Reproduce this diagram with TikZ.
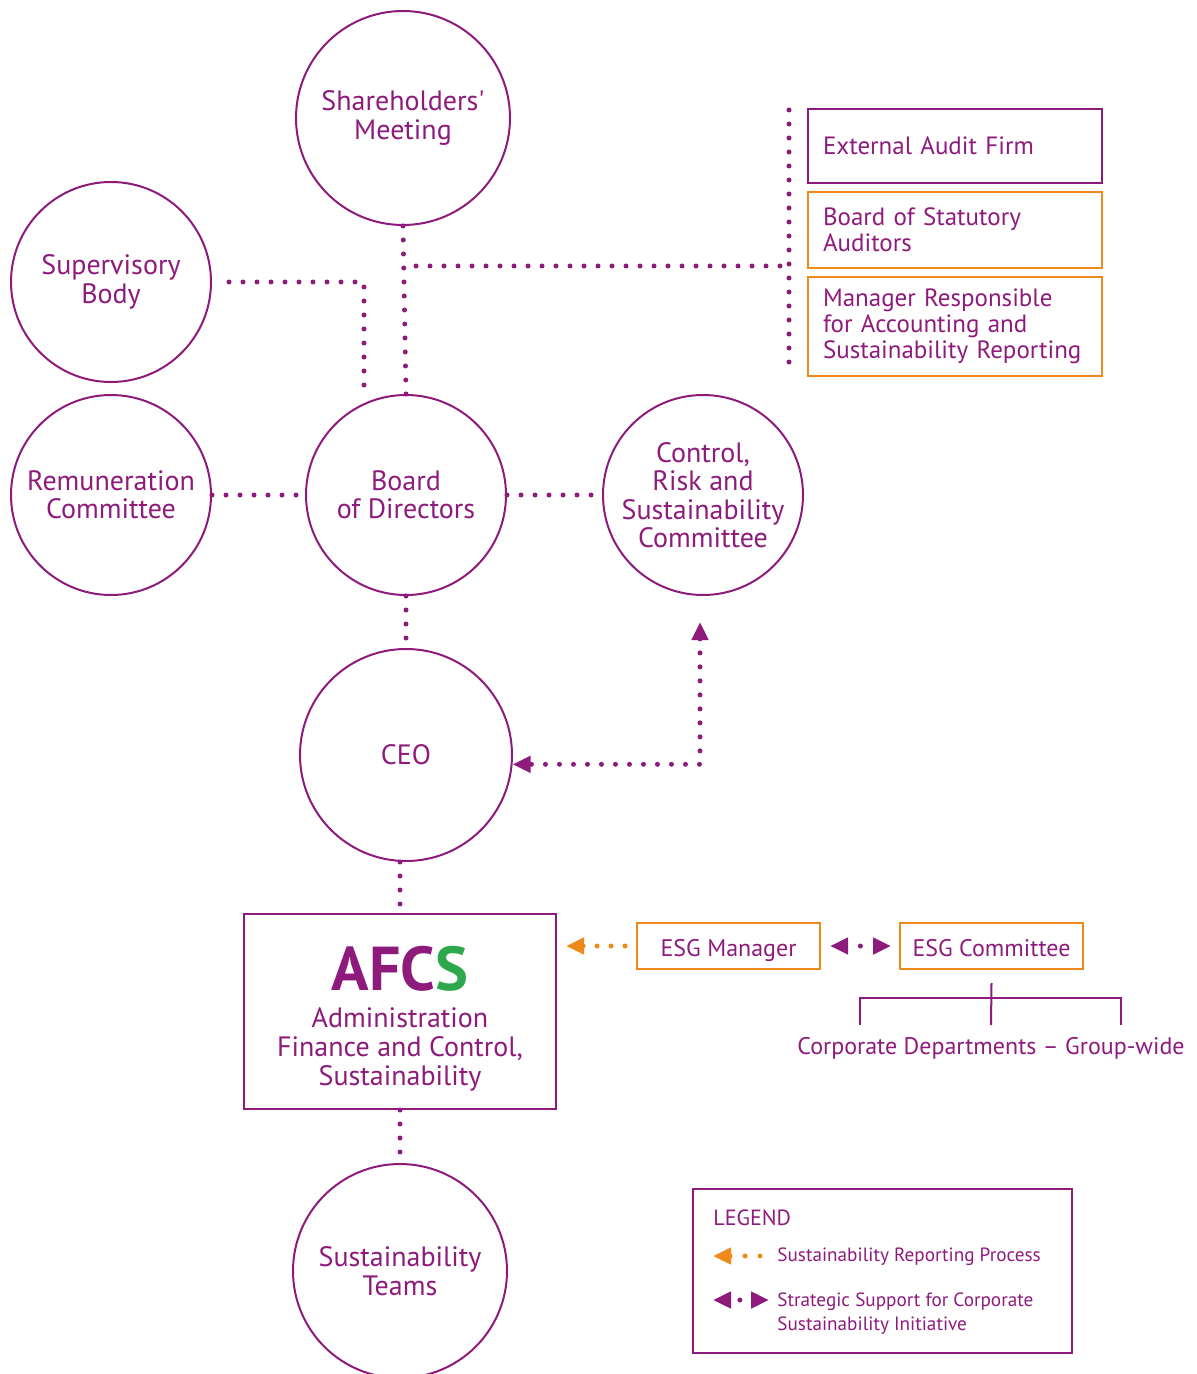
\documentclass[tikz,border=0pt]{standalone}
\usepackage{fontspec}
\setmainfont{PT Sans}
\usetikzlibrary{calc,arrows.meta}
\definecolor{plum}{HTML}{8E1B7C}
\definecolor{amber}{HTML}{EF8A1A}
\definecolor{leaf}{HTML}{2DA84C}

\begin{document}
\begin{tikzpicture}[x=0.5pt,y=-0.5pt,
    >={Triangle[length=9pt,width=8pt]},
    organ/.style={circle,draw=plum,line width=1pt,minimum size=#1,inner sep=0pt,
      text=plum,align=center,font=\fontsize{14}{14.2}\selectfont},
    organ/.default=100pt,
    pbox/.style={draw=plum,line width=1pt,text=plum,align=left,text width=132pt,
      inner xsep=7.5pt,minimum width=147pt,font=\fontsize{12.5}{13}\selectfont},
    obox/.style={pbox,draw=amber},
    esgbox/.style={draw=amber,line width=1pt,text=plum,minimum width=91.5pt,
      minimum height=23pt,text height=10.5pt,text depth=0.5pt,font=\fontsize{12}{12}\selectfont},
    pdots/.style={plum,line width=2.5pt,line cap=round,dash pattern=on 0pt off 7pt},
    odots/.style={pdots,amber},
    onedot/.style={plum,line width=2.5pt,line cap=round,dash pattern=on 0pt off 40pt,dash phase=#1},
    bracket/.style={plum,line width=1pt},
    legtext/.style={text=plum,align=left,inner sep=0pt,font=\fontsize{9.6}{12}\selectfont}]
    \useasboundingbox (0,0) rectangle (1197,1374);
    % governance bodies
    \node[organ=107pt] (sh) at (403,118) {Shareholders\textquotesingle\\Meeting};
    \node[organ] (sup) at (111,282) {Supervisory\\Body};
    \node[organ] (rem) at (111,495) {Remuneration\\Committee};
    \node[organ] (bod) at (406,495) {Board\\of Directors};
    \node[organ] (crs) at (703,495) {Control,\\Risk and\\Sustainability\\Committee};
    \node[organ=106pt] (ceo) at (406,755) {CEO};
    \node[organ=107pt] (team) at (400,1271) {Sustainability\\Teams};
    % control bodies
    \node[pbox,minimum height=37pt] (ext) at (955,146) {External Audit Firm};
    \node[obox,minimum height=38pt] (bsa) at (955,230) {Board of Statutory\\Auditors};
    \node[obox,minimum height=49.5pt] (mgr) at (955,326.5)
      {Manager Responsible\\for Accounting and\\Sustainability Reporting};
    \coordinate (railtop) at (789,110);
    \coordinate (railbot) at (789,374);
    \coordinate (tee) at (789,266);
    % AFCS and ESG
    \node[draw=plum,line width=1pt,text=plum,align=center,minimum width=156pt,
      minimum height=97.5pt,font=\fontsize{14}{14.5}\selectfont] (afcs) at (400,1011.5) {};
    \node[text=plum,align=center,font=\fontsize{14}{14.5}\selectfont] (afcstext) at (400,1019)
      {{\fontsize{31}{31}\selectfont\bfseries AFC\textcolor{leaf}{S}}\\[4pt]
       Administration\\Finance and Control,\\Sustainability};
    \node[esgbox] (esgm) at (728.5,946) {ESG Manager};
    \node[esgbox] (esgc) at (991.5,946) {ESG Committee};
    \node[text=plum,font=\fontsize{12}{12}\selectfont] (dept) at (991,1048)
      {Corporate Departments -- Group-wide};
    \coordinate (dl) at (860,1025);
    \coordinate (dm) at (991,1025);
    \coordinate (dr) at (1121,1025);

    \draw[pdots] (sh.south) -- (bod.north);
    \draw[pdots] ($(bod.north |- tee)+(10,0)$) -- (tee);
    \draw[pdots] (railtop) -- (railbot);
    \draw[pdots] ($(sup.east)+(17,0)$) -| ($(bod.north)+(-42,4)$);
    \draw[pdots] (rem.east) -- (bod.west);
    \draw[pdots] (bod.east) -- (crs.west);
    \draw[pdots] (bod.south) -- (ceo.north);
    \draw[pdots,<->] ($(crs.south)+(-3,26)$) |- (ceo.-5.4);
    \draw[pdots] (afcs.north |- ceo.south) -- (afcs.north);
    \draw[pdots] (afcs.south) -- (team.north);
    \draw[odots,->] ($(esgm.west)+(-11,0)$) -- ($(afcs.east |- esgm.west)+(9,0)$);
    \draw[onedot=33.25pt,<->] ($(esgm.east)+(9,0)$) -- ($(esgc.west)+(-8,0)$);
    \draw[bracket] ($(esgc.south)+(0,13)$) -- (dm);
    \draw[bracket] (dl) |- ($(esgc.south)+(0,28)$) -| (dr);

    % legend
    \node[draw=plum,line width=1pt,minimum width=189.5pt,minimum height=82pt] (legend) at (882.5,1271) {};
    \node[legtext,anchor=west,font=\fontsize{11}{12}\selectfont] (legtitle) at (713,1218) {LEGEND};
    \coordinate (o1) at (760,1256);
    \coordinate (o2) at (713,1256);
    \draw[odots,dash pattern=on 0pt off 7.5pt,->] (o1) -- (o2);
    \node[legtext,anchor=west] (legorange) at (777,1257) {Sustainability Reporting Process};
    \coordinate (p1) at (713,1300);
    \coordinate (p2) at (769,1300);
    \draw[onedot=35pt,<->] (p1) -- (p2);
    \node[legtext,anchor=north west] (legplum) at (777,1292)
      {Strategic Support for Corporate\\Sustainability Initiative};
\end{tikzpicture}
\end{document}
